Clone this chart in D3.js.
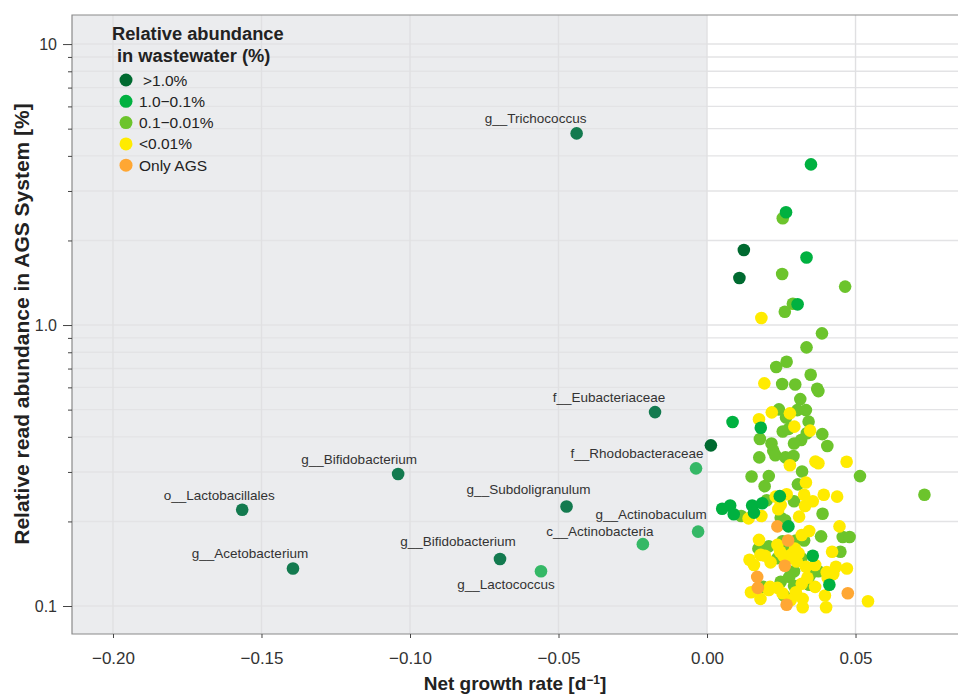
<!DOCTYPE html>
<html>
<head>
<meta charset="utf-8">
<script src="https://cdn.jsdelivr.net/npm/d3@7"></script>
<style>
  body { margin: 0; background: #fff; }
  text { font-family: "Liberation Sans", Arial, sans-serif; }
</style>
</head>
<body>
<script>

// legend categories (abundance in wastewater)
var groups = [">1.0%", "1.0\u22120.1%", "0.1\u22120.01%", "<0.01%", "Only AGS"];

// [net growth rate, relative abundance %] per category, unlabeled cluster
var darkPts = [[0.0124,1.85],[0.0109,1.47],[0.0013,0.373]];

var greenPts = [[0.0350,3.73],[0.0266,2.52],[0.0335,1.74],[0.0305,1.185],
  [0.0086,0.452],[0.0181,0.431],[0.0245,0.246],
  [0.0051,0.222],[0.0078,0.228],[0.0090,0.212],[0.0152,0.228],[0.0186,0.232],[0.0158,0.215],
  [0.0274,0.192],[0.0412,0.119],[0.0356,0.151]];

var lightPts = [[0.0255,2.40],[0.0253,1.52],[0.0465,1.37],[0.0289,1.19],[0.0262,1.115],[0.0387,0.934],[0.0335,0.833],
  [0.0268,0.740],[0.0233,0.709],[0.0349,0.665],[0.0253,0.617],[0.0297,0.614],[0.0371,0.593],[0.0375,0.582],
  [0.0314,0.545],[0.0242,0.501],[0.0304,0.498],[0.0333,0.498],[0.0266,0.469],[0.0342,0.453],
  [0.0255,0.418],[0.0275,0.427],[0.0336,0.412],[0.0388,0.409],[0.0178,0.393],[0.0317,0.390],
  [0.0293,0.379],[0.0405,0.371],[0.0217,0.379],[0.0223,0.357],[0.0230,0.344],[0.0291,0.342],
  [0.0176,0.338],[0.0264,0.338],[0.0320,0.301],[0.0150,0.289],[0.0208,0.290],[0.0515,0.290],
  [0.0732,0.249],[0.0194,0.267],[0.0306,0.271],[0.0201,0.238],[0.0293,0.236],
  [0.0115,0.209],[0.0248,0.206],[0.0389,0.213],[0.0263,0.202],
  [0.0457,0.176],[0.0480,0.176],[0.0384,0.177],[0.0299,0.171],[0.0327,0.171],
  [0.0208,0.163],[0.0254,0.170],[0.0449,0.156],[0.0318,0.148],[0.0237,0.148],[0.0173,0.160],[0.0277,0.157],
  [0.0375,0.133],[0.0293,0.133],[0.0248,0.122],[0.0344,0.119],[0.0189,0.117],[0.0259,0.109],
  [0.0277,0.127],[0.0293,0.118],[0.0347,0.129]];

var yellowPts = [[0.0183,1.06],[0.0193,0.620],[0.0218,0.489],[0.0279,0.485],[0.0175,0.462],[0.0294,0.435],[0.0347,0.421],
  [0.0279,0.317],[0.0365,0.327],[0.0375,0.322],[0.0470,0.326],
  [0.0333,0.275],[0.0393,0.249],[0.0438,0.245],[0.0327,0.249],[0.0356,0.236],[0.0330,0.227],[0.0248,0.229],
  [0.0231,0.245],[0.0268,0.250],[0.0240,0.221],
  [0.0140,0.205],[0.0183,0.209],[0.0310,0.208],
  [0.0446,0.192],[0.0344,0.185],[0.0319,0.179],[0.0175,0.172],[0.0237,0.165],
  [0.0421,0.156],[0.0143,0.146],[0.0180,0.152],[0.0282,0.152],[0.0246,0.156],[0.0296,0.160],[0.0308,0.154],
  [0.0195,0.151],[0.0214,0.143],[0.0257,0.151],[0.0274,0.148],[0.0302,0.144],
  [0.0158,0.140],[0.0434,0.138],[0.0471,0.136],[0.0333,0.138],[0.0364,0.140],[0.0403,0.132],[0.0425,0.130],
  [0.0338,0.126],[0.0406,0.126],[0.0148,0.112],[0.0208,0.114],[0.0237,0.116],[0.0254,0.111],
  [0.0299,0.112],[0.0322,0.106],[0.0542,0.104],[0.0401,0.099],[0.0322,0.099],[0.0180,0.106],[0.0282,0.105],
  [0.0319,0.120],[0.0364,0.117],[0.0397,0.109],[0.0212,0.117]];

var orangePts = [[0.0237,0.192],[0.0273,0.171],[0.0262,0.139],[0.0169,0.127],[0.0171,0.116],[0.0474,0.111],[0.0268,0.101]];

// labelled taxa (negative growth side)
var taxaNames = ["g__Trichococcus","f__Eubacteriaceae","f__Rhodobacteraceae","g__Bifidobacterium","o__Lactobacillales",
  "g__Acetobacterium","g__Subdoligranulum","g__Actinobaculum","c__Actinobacteria","g__Bifidobacterium","g__Lactococcus"];
var taxaRate  = [-0.0439,-0.0175,-0.0037,-0.1040,-0.1565,-0.1394,-0.0473,-0.0030,-0.0216,-0.0697,-0.0559];
var taxaAbund = [4.81,0.490,0.309,0.295,0.220,0.136,0.226,0.184,0.166,0.147,0.133];
var taxaGroup = [0,0,1,0,0,0,0,1,1,0,1];

var xTicks = [-0.20,-0.15,-0.10,-0.05,0.00,0.05];
var yTicks = [0.1,1,10];
var yTickLabels = ["0.1","1.0","10"];

// ---- layout / style ----
var W = 958, H = 695;
var plotL = 72, plotR = 958, plotT = 15, plotB = 634;
var palette = ["#006a30","#00b140","#6cc42c","#ffeb00","#ffa733"];
var taxaPalette = ["#137a4f","#35b866"];
var labelNudge = [[-41,-15],[-46,-15],[-59,-15],[-39,-15],[-23,-15],[-43,-15],[-38,-17],[-47,-17],[-43,-13],[-42,-18],[-35,13]];

var svg = d3.select("body").append("svg").attr("width", W).attr("height", H);

var x = d3.scaleLinear().domain([-0.2138, 0.0845]).range([plotL, plotR]);
var y = d3.scaleLog().domain([0.0795, 12.69]).range([plotB, plotT]);
var color = d3.scaleOrdinal().domain(groups).range(palette);

// panel backgrounds
svg.append("rect").attr("x", plotL).attr("y", plotT)
  .attr("width", plotR - plotL).attr("height", plotB - plotT).attr("fill", "#fff");
svg.append("rect").attr("x", plotL).attr("y", plotT)
  .attr("width", x(0) - plotL).attr("height", plotB - plotT).attr("fill", "#ebecee");

// grid
var minor = [];
[0.1, 1].forEach(function(dec) { for (var k = 2; k <= 9; k++) minor.push(dec * k); });
var grid = svg.append("g").attr("class", "grid");
grid.selectAll("line.h").data(yTicks.concat(minor)).enter().append("line")
  .attr("x1", plotL).attr("x2", plotR)
  .attr("y1", function(d) { return y(d); }).attr("y2", function(d) { return y(d); })
  .style("stroke", "#e3e3e5").style("stroke-width", 1.4);
grid.selectAll("line.v").data(xTicks).enter().append("line")
  .attr("y1", plotT).attr("y2", plotB)
  .attr("x1", function(d) { return x(d); }).attr("x2", function(d) { return x(d); })
  .style("stroke", "#e0e0e2").style("stroke-width", 1.4);

// frame
svg.append("path")
  .attr("d", "M" + plotR + "," + plotT + "H" + plotL + "V" + plotB + "H" + plotR)
  .attr("fill", "none").attr("stroke", "#8a8a8a").attr("stroke-width", 1.2);

// axes
var fmtX = function(d) { return d3.format(".2f")(d).replace("-", "\u2212"); };
var gx = svg.append("g").attr("transform", "translate(0," + plotB + ")")
  .call(d3.axisBottom(x).tickValues(xTicks).tickFormat(fmtX).tickSize(4).tickPadding(14));
gx.select(".domain").remove();
gx.selectAll("line").attr("stroke", "#444");
gx.selectAll("text").style("font-size", "17px").attr("fill", "#333");

var gy = svg.append("g").attr("transform", "translate(" + plotL + ",0)")
  .call(d3.axisLeft(y).tickValues(yTicks).tickFormat(function(d, i) { return yTickLabels[i]; })
    .tickSize(9).tickPadding(6));
gy.select(".domain").remove();
gy.selectAll("line").attr("stroke", "#444");
gy.selectAll("text").style("font-size", "16px").attr("fill", "#333");

var gym = svg.append("g").attr("transform", "translate(" + plotL + ",0)")
  .call(d3.axisLeft(y).tickValues(minor).tickFormat("").tickSize(4));
gym.select(".domain").remove();
gym.selectAll("line").attr("stroke", "#444");

// axis titles
var xt = svg.append("text").attr("x", (plotL + plotR) / 2).attr("y", 690)
  .attr("text-anchor", "middle").style("font-size", "19px").style("font-weight", "bold").attr("fill", "#222");
xt.append("tspan").text("Net growth rate [d");
xt.append("tspan").attr("dy", -6).style("font-size", "12px").text("\u22121");
xt.append("tspan").attr("dy", 6).text("]");

svg.append("text")
  .attr("transform", "translate(29," + 324 + ") rotate(-90)")
  .attr("text-anchor", "middle").style("font-size", "21px").style("font-weight", "bold")
  .attr("fill", "#222").text("Relative read abundance in AGS System [%]");

// points
var pts = [];
var byGroup = [darkPts, greenPts, lightPts, yellowPts, orangePts];
var drawOrder = [2, 3, 4, 1, 0];
drawOrder.forEach(function(gi) {
  byGroup[gi].forEach(function(p) { pts.push({ rate: p[0], abund: p[1], group: groups[gi] }); });
});

svg.append("g").selectAll("circle").data(pts).enter().append("circle")
  .attr("cx", function(d) { return x(d.rate); })
  .attr("cy", function(d) { return y(d.abund); })
  .attr("r", 6.3)
  .attr("fill", function(d) { return color(d.group); });

// labelled taxa
var taxa = taxaNames.map(function(n, i) {
  return { name: n, rate: taxaRate[i], abund: taxaAbund[i], g: taxaGroup[i], nudge: labelNudge[i] };
});
var tg = svg.append("g");
tg.selectAll("circle").data(taxa).enter().append("circle")
  .attr("cx", function(d) { return x(d.rate); })
  .attr("cy", function(d) { return y(d.abund); })
  .attr("r", 6.3)
  .attr("fill", function(d) { return taxaPalette[d.g]; });
tg.selectAll("text").data(taxa).enter().append("text")
  .attr("x", function(d) { return x(d.rate) + d.nudge[0]; })
  .attr("y", function(d) { return y(d.abund) + d.nudge[1]; })
  .attr("dy", "0.35em")
  .attr("text-anchor", "middle")
  .style("font-size", "13.5px").attr("fill", "#333")
  .text(function(d) { return d.name; });

// legend
var lg = svg.append("g");
lg.append("text").attr("x", 112).attr("y", 40).style("font-size", "18.3px").style("font-weight", "bold")
  .attr("fill", "#222").text("Relative abundance");
lg.append("text").attr("x", 117).attr("y", 62).style("font-size", "18.3px").style("font-weight", "bold")
  .attr("fill", "#222").text("in wastewater (%)");
var item = lg.selectAll("g.item").data(groups).enter().append("g")
  .attr("transform", function(d, i) { return "translate(126," + (80 + i * 21.3) + ")"; });
item.append("circle").attr("r", 6.5).attr("fill", function(d) { return color(d); });
item.append("text").attr("x", function(d, i) { return i === 0 ? 17 : 13; }).attr("dy", "0.36em")
  .style("font-size", "15.5px").attr("fill", "#222").text(function(d) { return d; });

</script>
</body>
</html>
